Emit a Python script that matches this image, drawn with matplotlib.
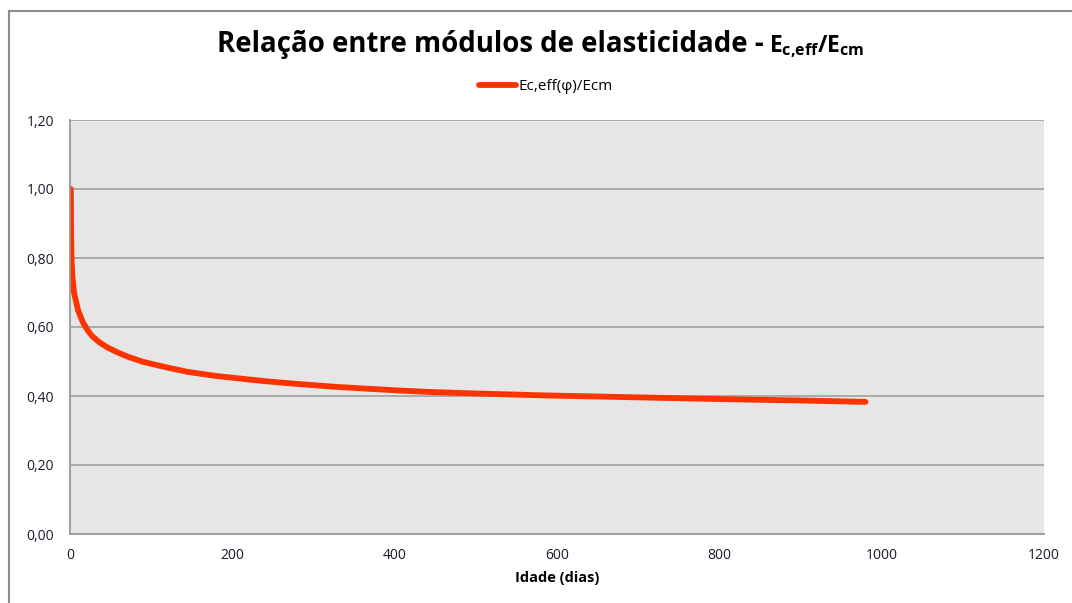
import matplotlib
matplotlib.use("Agg")
import matplotlib.pyplot as plt
from matplotlib.lines import Line2D

plt.rcParams['font.family'] = ['Open Sans', 'DejaVu Sans']
plt.rcParams['mathtext.fontset'] = 'custom'
plt.rcParams['mathtext.rm'] = 'Open Sans:bold'
plt.rcParams['mathtext.it'] = 'Open Sans:bold'
plt.rcParams['mathtext.bf'] = 'Open Sans:bold'

# data
dias = [1, 1.5, 2, 3, 5, 7, 10, 13, 16, 19, 23, 28, 36, 46, 58, 71, 90, 117,
        145, 180, 240, 280, 325, 360, 405, 440, 490, 580, 640, 700, 760, 825,
        900, 980]
razao = [1.00, 0.85, 0.79, 0.745, 0.70, 0.678, 0.648, 0.630, 0.613, 0.601,
         0.586, 0.572, 0.556, 0.541, 0.527, 0.514, 0.499, 0.484, 0.470, 0.458,
         0.443, 0.435, 0.427, 0.422, 0.416, 0.412, 0.408, 0.402, 0.399, 0.396,
         0.393, 0.390, 0.387, 0.383]
y_ticks = [0.0, 0.2, 0.4, 0.6, 0.8, 1.0, 1.2]
y_labels = ["0,00", "0,20", "0,40", "0,60", "0,80", "1,00", "1,20"]
x_ticks = [0, 200, 400, 600, 800, 1000, 1200]

W, H = 1072, 603
fig = plt.figure(figsize=(W / 100, H / 100), dpi=100)
ax = fig.add_axes([70 / W, 1 - 534 / H, 974 / W, 414 / H])
ax.set_facecolor('#e6e6e6')

ax.plot(dias, razao, color='#ff3300', lw=4.2, solid_capstyle='round',
        solid_joinstyle='round', label='Ec,eff(\u03c6)/Ecm')

ax.set_xlim(0, 1200)
ax.set_ylim(0, 1.2)
ax.set_xticks(x_ticks)
ax.set_yticks(y_ticks)
ax.set_yticklabels(y_labels)
ax.tick_params(length=0, labelsize=10, colors='#1a1a2e')
ax.tick_params(axis='y', pad=11.5)
ax.tick_params(axis='x', pad=10)
ax.grid(axis='y', color='#9a9a9a', lw=1.1)
ax.set_axisbelow(True)
for s in ['top', 'right']:
    ax.spines[s].set_visible(False)
for s in ['left', 'bottom']:
    ax.spines[s].set_color('#9a9a9a')
    ax.spines[s].set_linewidth(1.3)

ax.set_xlabel('Idade (dias)', fontsize=10.5, fontweight='bold', labelpad=6)

leg = fig.legend(loc='center', bbox_to_anchor=(546 / W, 1 - 87 / H), frameon=False,
                 fontsize=11, handlelength=2.4, handletextpad=0.2)

# title in two parts: main text + smaller subscripted ratio
t1 = fig.text(217 / W, 1 - 52 / H, 'Relação entre módulos de elasticidade - ',
              fontsize=19.9, fontweight='bold', va='baseline', ha='left')
fig.canvas.draw()
bb = t1.get_window_extent()
fig.text((bb.x1 - 2) / W, 1 - 52 / H, r'$E_{c{,}eff}/E_{cm}$', fontsize=16.5,
         va='baseline', ha='left')

# outer chart frame
fig.add_artist(Line2D([9 / W, 9 / W], [0, 1 - 11 / H], transform=fig.transFigure,
                      color='#8c8c8c', lw=1.5))
fig.add_artist(Line2D([9 / W, 1], [1 - 11 / H, 1 - 11 / H], transform=fig.transFigure,
                      color='#8c8c8c', lw=1.5))

fig.savefig('out.png', dpi=100)
